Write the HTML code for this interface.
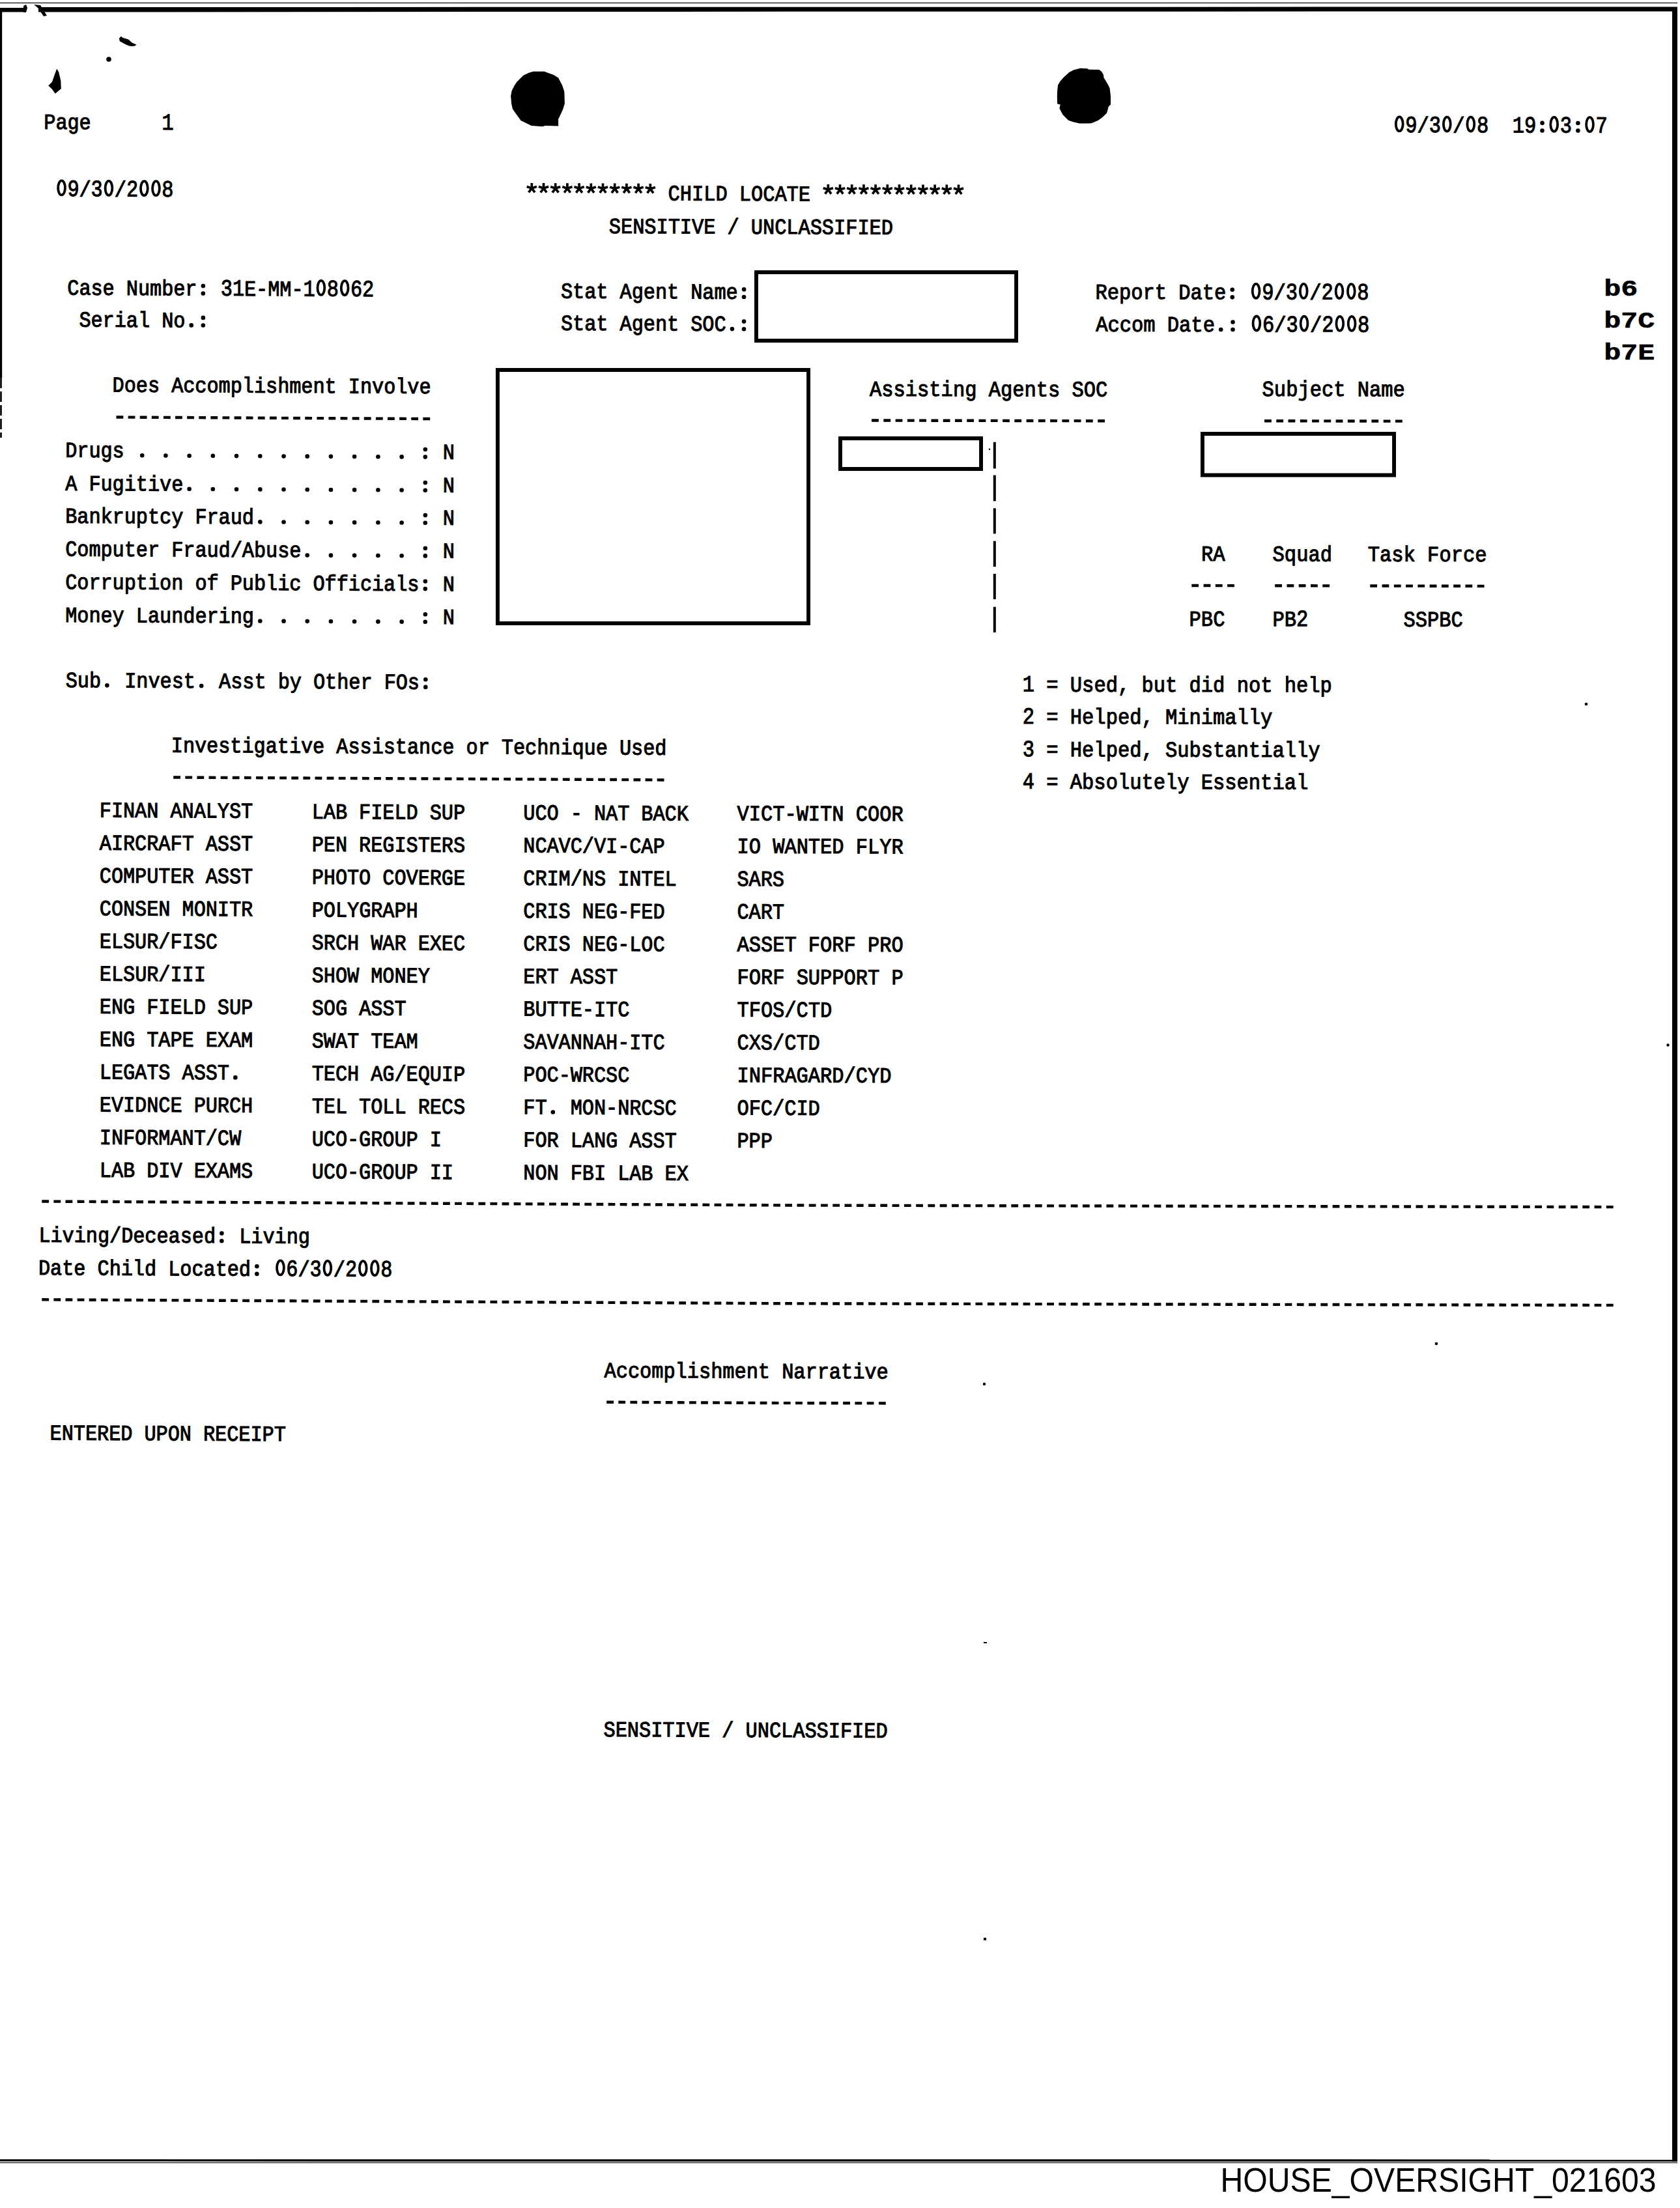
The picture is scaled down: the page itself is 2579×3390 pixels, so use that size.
<!DOCTYPE html>
<html><head><meta charset="utf-8"><title>Child Locate</title>
<style>
html,body{margin:0;padding:0;background:#fff;}
body{width:2579px;height:3390px;overflow:hidden;position:relative;}
svg{position:absolute;left:0;top:0;display:block;}
text{white-space:pre;}
</style></head><body>
<svg width="2579" height="3390" viewBox="0 0 2579 3390">
<g fill="#000">
<rect x="0" y="3.9" width="2575" height="1.2" fill="#000"/>
<path d="M0.0 12.0 L40.0 12.0 L40.0 11.0 L2575.0 10.5 L2575.0 17.5 L1200.0 17.8 L60.0 18.5 L0.0 18.6Z" fill="#000"/>
<rect x="40" y="9" width="19" height="12" fill="#fff"/>
<path d="M36 9 L40 7 L42 12 L40 19 L36 19Z" fill="#000"/>
<path d="M52 7 L62 8 L72 24 L67 25 L58 12Z" fill="#000"/>
<rect x="0.0" y="12.0" width="3.2" height="568.0" fill="#000"/>
<path d="M1.5 580 V672" stroke="#000" stroke-width="2.6" stroke-dasharray="16 5"/>
<rect x="2567.0" y="11.0" width="8.0" height="3307.5" fill="#000"/>
<path d="M0 3315.2 L2575 3315.4 L2575 3318.8 L0 3318.6Z" fill="#000"/>
<rect x="0.0" y="3320.0" width="2575.0" height="1.1" fill="#000"/>
<path d="M818.5 109.8 L835.5 109.8 L849.9 115.1 L857.1 119.6 L863.0 130.8 L866.3 140.6 L866.9 158.9 L864.3 167.5 L858.4 180.6 L857.1 182.5 L857.1 193.6 L836.8 193.0 L832.9 194.3 L815.8 193.0 L799.5 185.1 L791.6 174.0 L787.0 167.5 L785.1 158.9 L784.1 147.2 L785.7 139.3 L789.6 131.4 L793.6 125.5 L803.4 115.7 L811.9 111.8Z" fill="#000"/>
<path d="M1658.5 104.8 L1668.9 105.2 L1671.6 106.8 L1687.3 107.1 L1691.2 110.1 L1693.8 114.6 L1694.5 119.2 L1700.4 129.1 L1703.6 135.6 L1705.0 147.4 L1705.0 160.5 L1701.7 163.8 L1699.1 173.6 L1692.5 180.1 L1686.0 184.7 L1675.5 189.3 L1667.6 189.6 L1657.2 189.6 L1647.3 187.3 L1640.1 184.7 L1631.6 176.2 L1626.4 166.4 L1627.7 160.5 L1623.1 159.5 L1622.8 148.7 L1623.1 139.5 L1624.1 130.4 L1627.7 124.5 L1633.6 117.9 L1641.4 111.0 L1648.0 107.4Z" fill="#000"/>
<path d="M182.9 59.0 L185.7 55.7 L188.6 58.1 L197.1 60.5 L202.9 65.7 L209.5 68.6 L207.1 70.5 L202.9 71.0 L198.1 70.5 L191.4 67.6 L183.8 63.3Z" fill="#000"/>
<circle cx="167" cy="91" r="3.8" fill="#000"/>
<path d="M87.1 105.7 L90.0 110.0 L93.3 123.8 L93.8 136.2 L84.8 143.8 L80.0 137.1 L74.3 131.4 L80.0 125.7 L83.3 116.2Z" fill="#000"/>
<g font-weight="normal" font-family="Liberation Mono" stroke="#000" stroke-width="1.1" transform="rotate(0.301 67.3 198.0)"><text x="67.3" y="198.0" font-size="33.50" textLength="181.1" lengthAdjust="spacingAndGlyphs" xml:space="preserve">Page      </text><text x="248.4" y="198.0" font-size="35.84" textLength="18.1" lengthAdjust="spacingAndGlyphs" xml:space="preserve">1</text></g>
<g font-weight="normal" font-family="Liberation Mono" stroke="#000" stroke-width="1.1" transform="rotate(0.301 85.3 301.0)"><text x="85.3" y="301.0" font-size="35.84" textLength="36.2" lengthAdjust="spacingAndGlyphs" xml:space="preserve"> 9</text><text x="121.5" y="301.0" font-size="33.50" textLength="18.1" lengthAdjust="spacingAndGlyphs" xml:space="preserve">/</text><text x="139.6" y="301.0" font-size="35.84" textLength="36.2" lengthAdjust="spacingAndGlyphs" xml:space="preserve">3 </text><text x="175.8" y="301.0" font-size="33.50" textLength="18.1" lengthAdjust="spacingAndGlyphs" xml:space="preserve">/</text><text x="194.0" y="301.0" font-size="35.84" textLength="72.4" lengthAdjust="spacingAndGlyphs" xml:space="preserve">2  8</text><g stroke="none"><ellipse cx="94.5" cy="288.4" rx="5.4" ry="11.0" fill="none" stroke="#000" stroke-width="3.8"/><ellipse cx="166.9" cy="288.4" rx="5.4" ry="11.0" fill="none" stroke="#000" stroke-width="3.8"/><ellipse cx="221.3" cy="288.4" rx="5.4" ry="11.0" fill="none" stroke="#000" stroke-width="3.8"/><ellipse cx="239.4" cy="288.4" rx="5.4" ry="11.0" fill="none" stroke="#000" stroke-width="3.8"/></g></g>
<g font-weight="normal" font-family="Liberation Mono" stroke="#000" stroke-width="1.1" transform="rotate(0.119 2139.0 203.0)"><text x="2139.0" y="203.0" font-size="35.84" textLength="36.5" lengthAdjust="spacingAndGlyphs" xml:space="preserve"> 9</text><text x="2175.5" y="203.0" font-size="33.50" textLength="18.3" lengthAdjust="spacingAndGlyphs" xml:space="preserve">/</text><text x="2193.8" y="203.0" font-size="35.84" textLength="36.5" lengthAdjust="spacingAndGlyphs" xml:space="preserve">3 </text><text x="2230.3" y="203.0" font-size="33.50" textLength="36.5" lengthAdjust="spacingAndGlyphs" xml:space="preserve">/ </text><text x="2266.9" y="203.0" font-size="35.84" textLength="201.0" lengthAdjust="spacingAndGlyphs" xml:space="preserve">8  19  3  7</text><g stroke="none"><circle cx="2367.5" cy="200.0" r="3.3"/><circle cx="2367.5" cy="188.4" r="3.3"/><circle cx="2422.4" cy="200.0" r="3.3"/><circle cx="2422.4" cy="188.4" r="3.3"/><ellipse cx="2148.2" cy="190.4" rx="5.4" ry="11.0" fill="none" stroke="#000" stroke-width="3.8"/><ellipse cx="2221.3" cy="190.4" rx="5.4" ry="11.0" fill="none" stroke="#000" stroke-width="3.8"/><ellipse cx="2257.8" cy="190.4" rx="5.4" ry="11.0" fill="none" stroke="#000" stroke-width="3.8"/><ellipse cx="2385.7" cy="190.4" rx="5.4" ry="11.0" fill="none" stroke="#000" stroke-width="3.8"/><ellipse cx="2440.5" cy="190.4" rx="5.4" ry="11.0" fill="none" stroke="#000" stroke-width="3.8"/></g></g>
<g font-weight="normal" font-family="Liberation Mono" stroke="#000" stroke-width="1.1" transform="rotate(0.264 1025.6 307.5)"><text x="1025.6" y="307.5" font-size="33.50" textLength="218.4" lengthAdjust="spacingAndGlyphs" xml:space="preserve">CHILD LOCATE</text></g>
<path d="M816.3 288.9L816.30 280.95M816.3 288.9L823.91 286.48M816.3 288.9L821.00 295.42M816.3 288.9L811.60 295.42M816.3 288.9L808.69 286.48" stroke="#000" stroke-width="3.7" stroke-linecap="butt" fill="none"/>
<path d="M834.5 289.0L834.50 281.04M834.5 289.0L842.11 286.57M834.5 289.0L839.20 295.52M834.5 289.0L829.80 295.52M834.5 289.0L826.89 286.57" stroke="#000" stroke-width="3.7" stroke-linecap="butt" fill="none"/>
<path d="M852.7 289.1L852.70 281.14M852.7 289.1L860.31 286.67M852.7 289.1L857.40 295.61M852.7 289.1L848.00 295.61M852.7 289.1L845.09 286.67" stroke="#000" stroke-width="3.7" stroke-linecap="butt" fill="none"/>
<path d="M870.9 289.2L870.90 281.23M870.9 289.2L878.51 286.76M870.9 289.2L875.60 295.71M870.9 289.2L866.20 295.71M870.9 289.2L863.29 286.76" stroke="#000" stroke-width="3.7" stroke-linecap="butt" fill="none"/>
<path d="M889.1 289.3L889.10 281.33M889.1 289.3L896.71 286.86M889.1 289.3L893.80 295.80M889.1 289.3L884.40 295.80M889.1 289.3L881.49 286.86" stroke="#000" stroke-width="3.7" stroke-linecap="butt" fill="none"/>
<path d="M907.3 289.4L907.30 281.43M907.3 289.4L914.91 286.95M907.3 289.4L912.00 295.90M907.3 289.4L902.60 295.90M907.3 289.4L899.69 286.95" stroke="#000" stroke-width="3.7" stroke-linecap="butt" fill="none"/>
<path d="M925.5 289.5L925.50 281.52M925.5 289.5L933.11 287.05M925.5 289.5L930.20 295.99M925.5 289.5L920.80 295.99M925.5 289.5L917.89 287.05" stroke="#000" stroke-width="3.7" stroke-linecap="butt" fill="none"/>
<path d="M943.7 289.6L943.70 281.62M943.7 289.6L951.31 287.14M943.7 289.6L948.40 296.09M943.7 289.6L939.00 296.09M943.7 289.6L936.09 287.14" stroke="#000" stroke-width="3.7" stroke-linecap="butt" fill="none"/>
<path d="M961.9 289.7L961.90 281.71M961.9 289.7L969.51 287.24M961.9 289.7L966.60 296.18M961.9 289.7L957.20 296.18M961.9 289.7L954.29 287.24" stroke="#000" stroke-width="3.7" stroke-linecap="butt" fill="none"/>
<path d="M980.1 289.8L980.10 281.81M980.1 289.8L987.71 287.34M980.1 289.8L984.80 296.28M980.1 289.8L975.40 296.28M980.1 289.8L972.49 287.34" stroke="#000" stroke-width="3.7" stroke-linecap="butt" fill="none"/>
<path d="M998.3 289.9L998.30 281.90M998.3 289.9L1005.91 287.43M998.3 289.9L1003.00 296.38M998.3 289.9L993.60 296.38M998.3 289.9L990.69 287.43" stroke="#000" stroke-width="3.7" stroke-linecap="butt" fill="none"/>
<path d="M1271.3 291.1L1271.30 283.11M1271.3 291.1L1278.91 288.64M1271.3 291.1L1276.00 297.58M1271.3 291.1L1266.60 297.58M1271.3 291.1L1263.69 288.64" stroke="#000" stroke-width="3.7" stroke-linecap="butt" fill="none"/>
<path d="M1289.5 291.1L1289.50 283.15M1289.5 291.1L1297.11 288.68M1289.5 291.1L1294.20 297.62M1289.5 291.1L1284.80 297.62M1289.5 291.1L1281.89 288.68" stroke="#000" stroke-width="3.7" stroke-linecap="butt" fill="none"/>
<path d="M1307.7 291.2L1307.70 283.19M1307.7 291.2L1315.31 288.71M1307.7 291.2L1312.40 297.66M1307.7 291.2L1303.00 297.66M1307.7 291.2L1300.09 288.71" stroke="#000" stroke-width="3.7" stroke-linecap="butt" fill="none"/>
<path d="M1325.9 291.2L1325.90 283.22M1325.9 291.2L1333.51 288.75M1325.9 291.2L1330.60 297.70M1325.9 291.2L1321.20 297.70M1325.9 291.2L1318.29 288.75" stroke="#000" stroke-width="3.7" stroke-linecap="butt" fill="none"/>
<path d="M1344.1 291.3L1344.10 283.26M1344.1 291.3L1351.71 288.79M1344.1 291.3L1348.80 297.73M1344.1 291.3L1339.40 297.73M1344.1 291.3L1336.49 288.79" stroke="#000" stroke-width="3.7" stroke-linecap="butt" fill="none"/>
<path d="M1362.3 291.3L1362.30 283.30M1362.3 291.3L1369.91 288.83M1362.3 291.3L1367.00 297.77M1362.3 291.3L1357.60 297.77M1362.3 291.3L1354.69 288.83" stroke="#000" stroke-width="3.7" stroke-linecap="butt" fill="none"/>
<path d="M1380.5 291.3L1380.50 283.34M1380.5 291.3L1388.11 288.87M1380.5 291.3L1385.20 297.81M1380.5 291.3L1375.80 297.81M1380.5 291.3L1372.89 288.87" stroke="#000" stroke-width="3.7" stroke-linecap="butt" fill="none"/>
<path d="M1398.7 291.4L1398.70 283.38M1398.7 291.4L1406.31 288.90M1398.7 291.4L1403.40 297.85M1398.7 291.4L1394.00 297.85M1398.7 291.4L1391.09 288.90" stroke="#000" stroke-width="3.7" stroke-linecap="butt" fill="none"/>
<path d="M1416.9 291.4L1416.90 283.41M1416.9 291.4L1424.51 288.94M1416.9 291.4L1421.60 297.89M1416.9 291.4L1412.20 297.89M1416.9 291.4L1409.29 288.94" stroke="#000" stroke-width="3.7" stroke-linecap="butt" fill="none"/>
<path d="M1435.1 291.5L1435.10 283.45M1435.1 291.5L1442.71 288.98M1435.1 291.5L1439.80 297.92M1435.1 291.5L1430.40 297.92M1435.1 291.5L1427.49 288.98" stroke="#000" stroke-width="3.7" stroke-linecap="butt" fill="none"/>
<path d="M1453.3 291.5L1453.30 283.49M1453.3 291.5L1460.91 289.02M1453.3 291.5L1458.00 297.96M1453.3 291.5L1448.60 297.96M1453.3 291.5L1445.69 289.02" stroke="#000" stroke-width="3.7" stroke-linecap="butt" fill="none"/>
<path d="M1471.5 291.5L1471.50 283.53M1471.5 291.5L1479.11 289.05M1471.5 291.5L1476.20 298.00M1471.5 291.5L1466.80 298.00M1471.5 291.5L1463.89 289.05" stroke="#000" stroke-width="3.7" stroke-linecap="butt" fill="none"/>
<g font-weight="normal" font-family="Liberation Mono" stroke="#000" stroke-width="1.1" transform="rotate(0.230 934.8 358.0)"><text x="934.8" y="358.0" font-size="33.50" textLength="436.1" lengthAdjust="spacingAndGlyphs" xml:space="preserve">SENSITIVE / UNCLASSIFIED</text></g>
<g font-weight="normal" font-family="Liberation Mono" stroke="#000" stroke-width="1.1" transform="rotate(0.301 103.3 452.5)"><text x="103.3" y="452.5" font-size="33.50" textLength="235.4" lengthAdjust="spacingAndGlyphs" xml:space="preserve">Case Number  </text><text x="338.8" y="452.5" font-size="35.84" textLength="36.2" lengthAdjust="spacingAndGlyphs" xml:space="preserve">31</text><text x="375.0" y="452.5" font-size="33.50" textLength="90.5" lengthAdjust="spacingAndGlyphs" xml:space="preserve">E-MM-</text><text x="465.5" y="452.5" font-size="35.84" textLength="108.7" lengthAdjust="spacingAndGlyphs" xml:space="preserve">1 8 62</text><g stroke="none"><circle cx="311.8" cy="449.5" r="3.3"/><circle cx="311.8" cy="437.9" r="3.3"/><ellipse cx="492.8" cy="439.9" rx="5.4" ry="11.0" fill="none" stroke="#000" stroke-width="3.8"/><ellipse cx="529.1" cy="439.9" rx="5.4" ry="11.0" fill="none" stroke="#000" stroke-width="3.8"/></g></g>
<g font-weight="normal" font-family="Liberation Mono" stroke="#000" stroke-width="1.1" transform="rotate(0.301 121.4 501.5)"><text x="121.4" y="501.5" font-size="33.50" textLength="199.2" lengthAdjust="spacingAndGlyphs" xml:space="preserve">Serial No  </text><g stroke="none"><circle cx="293.7" cy="498.5" r="3.3"/><circle cx="311.8" cy="498.5" r="3.3"/><circle cx="311.8" cy="486.9" r="3.3"/></g></g>
<g font-weight="normal" font-family="Liberation Mono" stroke="#000" stroke-width="1.1" transform="rotate(0.301 861.0 457.5)"><text x="861.0" y="457.5" font-size="33.50" textLength="289.8" lengthAdjust="spacingAndGlyphs" xml:space="preserve">Stat Agent Name </text><g stroke="none"><circle cx="1142.0" cy="454.5" r="3.3"/><circle cx="1142.0" cy="442.9" r="3.3"/></g></g>
<g font-weight="normal" font-family="Liberation Mono" stroke="#000" stroke-width="1.1" transform="rotate(0.301 861.0 506.7)"><text x="861.0" y="506.7" font-size="33.50" textLength="289.8" lengthAdjust="spacingAndGlyphs" xml:space="preserve">Stat Agent SOC  </text><g stroke="none"><circle cx="1123.9" cy="503.7" r="3.3"/><circle cx="1142.0" cy="503.7" r="3.3"/><circle cx="1142.0" cy="492.1" r="3.3"/></g></g>
<path d="M1158 415H1563V526H1158Z M1163.9 420.9V520.1H1557.1V420.9Z" fill="#000" fill-rule="evenodd"/>
<g font-weight="normal" font-family="Liberation Mono" stroke="#000" stroke-width="1.1" transform="rotate(0.119 1681.4 458.9)"><text x="1681.4" y="458.9" font-size="33.50" textLength="255.8" lengthAdjust="spacingAndGlyphs" xml:space="preserve">Report Date   </text><text x="1937.2" y="458.9" font-size="35.84" textLength="18.3" lengthAdjust="spacingAndGlyphs" xml:space="preserve">9</text><text x="1955.4" y="458.9" font-size="33.50" textLength="18.3" lengthAdjust="spacingAndGlyphs" xml:space="preserve">/</text><text x="1973.7" y="458.9" font-size="35.84" textLength="36.5" lengthAdjust="spacingAndGlyphs" xml:space="preserve">3 </text><text x="2010.3" y="458.9" font-size="33.50" textLength="18.3" lengthAdjust="spacingAndGlyphs" xml:space="preserve">/</text><text x="2028.5" y="458.9" font-size="35.84" textLength="73.1" lengthAdjust="spacingAndGlyphs" xml:space="preserve">2  8</text><g stroke="none"><circle cx="1891.7" cy="455.9" r="3.3"/><circle cx="1891.7" cy="444.3" r="3.3"/><ellipse cx="1928.1" cy="446.3" rx="5.4" ry="11.0" fill="none" stroke="#000" stroke-width="3.8"/><ellipse cx="2001.2" cy="446.3" rx="5.4" ry="11.0" fill="none" stroke="#000" stroke-width="3.8"/><ellipse cx="2056.0" cy="446.3" rx="5.4" ry="11.0" fill="none" stroke="#000" stroke-width="3.8"/><ellipse cx="2074.3" cy="446.3" rx="5.4" ry="11.0" fill="none" stroke="#000" stroke-width="3.8"/></g></g>
<g font-weight="normal" font-family="Liberation Mono" stroke="#000" stroke-width="1.1" transform="rotate(0.119 1682.2 508.6)"><text x="1682.2" y="508.6" font-size="33.50" textLength="255.8" lengthAdjust="spacingAndGlyphs" xml:space="preserve">Accom Date    </text><text x="1938.0" y="508.6" font-size="35.84" textLength="18.3" lengthAdjust="spacingAndGlyphs" xml:space="preserve">6</text><text x="1956.2" y="508.6" font-size="33.50" textLength="18.3" lengthAdjust="spacingAndGlyphs" xml:space="preserve">/</text><text x="1974.5" y="508.6" font-size="35.84" textLength="36.5" lengthAdjust="spacingAndGlyphs" xml:space="preserve">3 </text><text x="2011.1" y="508.6" font-size="33.50" textLength="18.3" lengthAdjust="spacingAndGlyphs" xml:space="preserve">/</text><text x="2029.3" y="508.6" font-size="35.84" textLength="73.1" lengthAdjust="spacingAndGlyphs" xml:space="preserve">2  8</text><g stroke="none"><circle cx="1874.2" cy="505.6" r="3.3"/><circle cx="1892.5" cy="505.6" r="3.3"/><circle cx="1892.5" cy="494.0" r="3.3"/><ellipse cx="1928.9" cy="496.0" rx="5.4" ry="11.0" fill="none" stroke="#000" stroke-width="3.8"/><ellipse cx="2002.0" cy="496.0" rx="5.4" ry="11.0" fill="none" stroke="#000" stroke-width="3.8"/><ellipse cx="2056.8" cy="496.0" rx="5.4" ry="11.0" fill="none" stroke="#000" stroke-width="3.8"/><ellipse cx="2075.1" cy="496.0" rx="5.4" ry="11.0" fill="none" stroke="#000" stroke-width="3.8"/></g></g>
<g font-weight="bold" font-family="Liberation Mono" stroke="#000" stroke-width="0.6" transform="rotate(0.000 2462.3 453.8)"><text x="2462.3" y="453.8" font-size="35.50" textLength="52.0" lengthAdjust="spacingAndGlyphs" xml:space="preserve">b6</text></g>
<g font-weight="bold" font-family="Liberation Mono" stroke="#000" stroke-width="0.6" transform="rotate(0.000 2462.3 502.8)"><text x="2462.3" y="502.8" font-size="35.50" textLength="78.0" lengthAdjust="spacingAndGlyphs" xml:space="preserve">b7C</text></g>
<g font-weight="bold" font-family="Liberation Mono" stroke="#000" stroke-width="0.6" transform="rotate(0.000 2462.3 551.7)"><text x="2462.3" y="551.7" font-size="35.50" textLength="78.0" lengthAdjust="spacingAndGlyphs" xml:space="preserve">b7E</text></g>
<g font-weight="normal" font-family="Liberation Mono" stroke="#000" stroke-width="1.1" transform="rotate(0.301 172.6 601.5)"><text x="172.6" y="601.5" font-size="33.50" textLength="489.0" lengthAdjust="spacingAndGlyphs" xml:space="preserve">Does Accomplishment Involve</text></g>
<path d="M178.5 640.5 L660.2 643.03" fill="none" stroke="#000" stroke-width="4.4" stroke-dasharray="10.8 7.31"/>
<g font-weight="normal" font-family="Liberation Mono" stroke="#000" stroke-width="1.1" transform="rotate(0.301 100.2 701.7)"><text x="100.2" y="701.7" font-size="33.50" textLength="597.6" lengthAdjust="spacingAndGlyphs" xml:space="preserve">Drugs                           N</text><g stroke="none"><circle cx="218.2" cy="698.7" r="3.3"/><circle cx="254.4" cy="698.7" r="3.3"/><circle cx="290.6" cy="698.7" r="3.3"/><circle cx="326.8" cy="698.7" r="3.3"/><circle cx="363.0" cy="698.7" r="3.3"/><circle cx="399.3" cy="698.7" r="3.3"/><circle cx="435.5" cy="698.7" r="3.3"/><circle cx="471.7" cy="698.7" r="3.3"/><circle cx="507.9" cy="698.7" r="3.3"/><circle cx="544.1" cy="698.7" r="3.3"/><circle cx="580.4" cy="698.7" r="3.3"/><circle cx="616.6" cy="698.7" r="3.3"/><circle cx="652.8" cy="698.7" r="3.3"/><circle cx="652.8" cy="687.1" r="3.3"/></g></g>
<g font-weight="normal" font-family="Liberation Mono" stroke="#000" stroke-width="1.1" transform="rotate(0.301 100.2 752.8)"><text x="100.2" y="752.8" font-size="33.50" textLength="597.6" lengthAdjust="spacingAndGlyphs" xml:space="preserve">A Fugitive                      N</text><g stroke="none"><circle cx="290.6" cy="749.8" r="3.3"/><circle cx="326.8" cy="749.8" r="3.3"/><circle cx="363.0" cy="749.8" r="3.3"/><circle cx="399.3" cy="749.8" r="3.3"/><circle cx="435.5" cy="749.8" r="3.3"/><circle cx="471.7" cy="749.8" r="3.3"/><circle cx="507.9" cy="749.8" r="3.3"/><circle cx="544.1" cy="749.8" r="3.3"/><circle cx="580.4" cy="749.8" r="3.3"/><circle cx="616.6" cy="749.8" r="3.3"/><circle cx="652.8" cy="749.8" r="3.3"/><circle cx="652.8" cy="738.2" r="3.3"/></g></g>
<g font-weight="normal" font-family="Liberation Mono" stroke="#000" stroke-width="1.1" transform="rotate(0.301 100.2 802.8)"><text x="100.2" y="802.8" font-size="33.50" textLength="597.6" lengthAdjust="spacingAndGlyphs" xml:space="preserve">Bankruptcy Fraud                N</text><g stroke="none"><circle cx="399.3" cy="799.8" r="3.3"/><circle cx="435.5" cy="799.8" r="3.3"/><circle cx="471.7" cy="799.8" r="3.3"/><circle cx="507.9" cy="799.8" r="3.3"/><circle cx="544.1" cy="799.8" r="3.3"/><circle cx="580.4" cy="799.8" r="3.3"/><circle cx="616.6" cy="799.8" r="3.3"/><circle cx="652.8" cy="799.8" r="3.3"/><circle cx="652.8" cy="788.2" r="3.3"/></g></g>
<g font-weight="normal" font-family="Liberation Mono" stroke="#000" stroke-width="1.1" transform="rotate(0.301 100.2 853.5)"><text x="100.2" y="853.5" font-size="33.50" textLength="597.6" lengthAdjust="spacingAndGlyphs" xml:space="preserve">Computer Fraud/Abuse            N</text><g stroke="none"><circle cx="471.7" cy="850.5" r="3.3"/><circle cx="507.9" cy="850.5" r="3.3"/><circle cx="544.1" cy="850.5" r="3.3"/><circle cx="580.4" cy="850.5" r="3.3"/><circle cx="616.6" cy="850.5" r="3.3"/><circle cx="652.8" cy="850.5" r="3.3"/><circle cx="652.8" cy="838.9" r="3.3"/></g></g>
<g font-weight="normal" font-family="Liberation Mono" stroke="#000" stroke-width="1.1" transform="rotate(0.301 100.2 904.2)"><text x="100.2" y="904.2" font-size="33.50" textLength="597.6" lengthAdjust="spacingAndGlyphs" xml:space="preserve">Corruption of Public Officials  N</text><g stroke="none"><circle cx="652.8" cy="901.2" r="3.3"/><circle cx="652.8" cy="889.6" r="3.3"/></g></g>
<g font-weight="normal" font-family="Liberation Mono" stroke="#000" stroke-width="1.1" transform="rotate(0.301 100.2 954.9)"><text x="100.2" y="954.9" font-size="33.50" textLength="597.6" lengthAdjust="spacingAndGlyphs" xml:space="preserve">Money Laundering                N</text><g stroke="none"><circle cx="399.3" cy="951.9" r="3.3"/><circle cx="435.5" cy="951.9" r="3.3"/><circle cx="471.7" cy="951.9" r="3.3"/><circle cx="507.9" cy="951.9" r="3.3"/><circle cx="544.1" cy="951.9" r="3.3"/><circle cx="580.4" cy="951.9" r="3.3"/><circle cx="616.6" cy="951.9" r="3.3"/><circle cx="652.8" cy="951.9" r="3.3"/><circle cx="652.8" cy="940.3" r="3.3"/></g></g>
<path d="M761 565H1244V960H761Z M766.9 570.9V954.1H1238.1V570.9Z" fill="#000" fill-rule="evenodd"/>
<g font-weight="normal" font-family="Liberation Mono" stroke="#000" stroke-width="1.1" transform="rotate(0.119 1335.0 607.9)"><text x="1335.0" y="607.9" font-size="33.50" textLength="365.4" lengthAdjust="spacingAndGlyphs" xml:space="preserve">Assisting Agents SOC</text></g>
<path d="M1338.1 645.5 L1696.0 646.24" fill="none" stroke="#000" stroke-width="4.4" stroke-dasharray="10.8 7.47"/>
<path d="M1287 670H1509V723H1287Z M1292.9 675.9V717.1H1503.1V675.9Z" fill="#000" fill-rule="evenodd"/>
<rect x="1524.8" y="678.8" width="4.0" height="40.6" fill="#000"/>
<rect x="1524.8" y="729.6" width="4.0" height="39.8" fill="#000"/>
<rect x="1524.8" y="780.3" width="4.0" height="39.1" fill="#000"/>
<rect x="1524.8" y="830.7" width="4.0" height="39.4" fill="#000"/>
<rect x="1524.8" y="881.0" width="4.0" height="39.1" fill="#000"/>
<rect x="1524.8" y="931.7" width="4.0" height="39.2" fill="#000"/>
<circle cx="1519" cy="689.7" r="1.3" fill="#000"/>
<g font-weight="normal" font-family="Liberation Mono" stroke="#000" stroke-width="1.1" transform="rotate(0.119 1937.6 607.9)"><text x="1937.6" y="607.9" font-size="33.50" textLength="219.2" lengthAdjust="spacingAndGlyphs" xml:space="preserve">Subject Name</text></g>
<path d="M1941.0 646.2 L2152.8 646.64" fill="none" stroke="#000" stroke-width="4.4" stroke-dasharray="10.8 7.47"/>
<path d="M1843 663H2143V732.5H1843Z M1848.9 668.9V726.6H2137.1V668.9Z" fill="#000" fill-rule="evenodd"/>
<g font-weight="normal" font-family="Liberation Mono" stroke="#000" stroke-width="1.1" transform="rotate(0.119 1825.7 861.0)"><text x="1825.7" y="861.0" font-size="33.50" textLength="456.8" lengthAdjust="spacingAndGlyphs" xml:space="preserve"> RA    Squad   Task Force</text></g>
<path d="M1829.3 899.0 L1894.9 899.14" fill="none" stroke="#000" stroke-width="4.4" stroke-dasharray="10.8 7.47"/>
<path d="M1957.2 899.2 L2041.1 899.37" fill="none" stroke="#000" stroke-width="4.4" stroke-dasharray="10.8 7.47"/>
<path d="M2103.3 899.5 L2278.6 899.86" fill="none" stroke="#000" stroke-width="4.4" stroke-dasharray="10.8 7.47"/>
<g font-weight="normal" font-family="Liberation Mono" stroke="#000" stroke-width="1.1" transform="rotate(0.119 1825.6 961.0)"><text x="1825.6" y="961.0" font-size="33.50" textLength="164.4" lengthAdjust="spacingAndGlyphs" xml:space="preserve">PBC    PB</text><text x="1990.0" y="961.0" font-size="35.84" textLength="164.4" lengthAdjust="spacingAndGlyphs" xml:space="preserve">2        </text><text x="2154.5" y="961.0" font-size="33.50" textLength="91.3" lengthAdjust="spacingAndGlyphs" xml:space="preserve">SSPBC</text></g>
<g font-weight="normal" font-family="Liberation Mono" stroke="#000" stroke-width="1.1" transform="rotate(0.301 100.7 1055.0)"><text x="100.7" y="1055.0" font-size="33.50" textLength="561.4" lengthAdjust="spacingAndGlyphs" xml:space="preserve">Sub  Invest  Asst by Other FOs </text><g stroke="none"><circle cx="164.4" cy="1052.0" r="3.3"/><circle cx="309.2" cy="1052.0" r="3.3"/><circle cx="653.3" cy="1052.0" r="3.3"/><circle cx="653.3" cy="1040.4" r="3.3"/></g></g>
<g font-weight="normal" font-family="Liberation Mono" stroke="#000" stroke-width="1.1" transform="rotate(0.119 1569.8 1061.5)"><text x="1569.8" y="1061.5" font-size="35.84" textLength="36.5" lengthAdjust="spacingAndGlyphs" xml:space="preserve">1 </text><text x="1606.3" y="1061.5" font-size="33.50" textLength="438.5" lengthAdjust="spacingAndGlyphs" xml:space="preserve">= Used, but did not help</text></g>
<g font-weight="normal" font-family="Liberation Mono" stroke="#000" stroke-width="1.1" transform="rotate(0.119 1569.8 1110.9)"><text x="1569.8" y="1110.9" font-size="35.84" textLength="36.5" lengthAdjust="spacingAndGlyphs" xml:space="preserve">2 </text><text x="1606.3" y="1110.9" font-size="33.50" textLength="347.1" lengthAdjust="spacingAndGlyphs" xml:space="preserve">= Helped, Minimally</text></g>
<g font-weight="normal" font-family="Liberation Mono" stroke="#000" stroke-width="1.1" transform="rotate(0.119 1569.8 1161.2)"><text x="1569.8" y="1161.2" font-size="35.84" textLength="36.5" lengthAdjust="spacingAndGlyphs" xml:space="preserve">3 </text><text x="1606.3" y="1161.2" font-size="33.50" textLength="420.2" lengthAdjust="spacingAndGlyphs" xml:space="preserve">= Helped, Substantially</text></g>
<g font-weight="normal" font-family="Liberation Mono" stroke="#000" stroke-width="1.1" transform="rotate(0.119 1569.8 1210.7)"><text x="1569.8" y="1210.7" font-size="35.84" textLength="36.5" lengthAdjust="spacingAndGlyphs" xml:space="preserve">4 </text><text x="1606.3" y="1210.7" font-size="33.50" textLength="401.9" lengthAdjust="spacingAndGlyphs" xml:space="preserve">= Absolutely Essential</text></g>
<g font-weight="normal" font-family="Liberation Mono" stroke="#000" stroke-width="1.1" transform="rotate(0.301 262.8 1154.8)"><text x="262.8" y="1154.8" font-size="33.50" textLength="760.6" lengthAdjust="spacingAndGlyphs" xml:space="preserve">Investigative Assistance or Technique Used</text></g>
<path d="M266.2 1193.5 L1019.5 1197.45" fill="none" stroke="#000" stroke-width="4.4" stroke-dasharray="10.8 7.31"/>
<g font-weight="normal" font-family="Liberation Mono" stroke="#000" stroke-width="1.1" transform="rotate(0.301 152.8 1254.5)"><text x="152.8" y="1254.5" font-size="33.50" textLength="235.4" lengthAdjust="spacingAndGlyphs" xml:space="preserve">FINAN ANALYST</text></g>
<g font-weight="normal" font-family="Liberation Mono" stroke="#000" stroke-width="1.1" transform="rotate(0.301 152.8 1304.7)"><text x="152.8" y="1304.7" font-size="33.50" textLength="235.4" lengthAdjust="spacingAndGlyphs" xml:space="preserve">AIRCRAFT ASST</text></g>
<g font-weight="normal" font-family="Liberation Mono" stroke="#000" stroke-width="1.1" transform="rotate(0.301 152.8 1354.9)"><text x="152.8" y="1354.9" font-size="33.50" textLength="235.4" lengthAdjust="spacingAndGlyphs" xml:space="preserve">COMPUTER ASST</text></g>
<g font-weight="normal" font-family="Liberation Mono" stroke="#000" stroke-width="1.1" transform="rotate(0.301 152.8 1405.2)"><text x="152.8" y="1405.2" font-size="33.50" textLength="235.4" lengthAdjust="spacingAndGlyphs" xml:space="preserve">CONSEN MONITR</text></g>
<g font-weight="normal" font-family="Liberation Mono" stroke="#000" stroke-width="1.1" transform="rotate(0.301 152.8 1455.4)"><text x="152.8" y="1455.4" font-size="33.50" textLength="181.1" lengthAdjust="spacingAndGlyphs" xml:space="preserve">ELSUR/FISC</text></g>
<g font-weight="normal" font-family="Liberation Mono" stroke="#000" stroke-width="1.1" transform="rotate(0.301 152.8 1505.6)"><text x="152.8" y="1505.6" font-size="33.50" textLength="163.0" lengthAdjust="spacingAndGlyphs" xml:space="preserve">ELSUR/III</text></g>
<g font-weight="normal" font-family="Liberation Mono" stroke="#000" stroke-width="1.1" transform="rotate(0.301 152.8 1555.8)"><text x="152.8" y="1555.8" font-size="33.50" textLength="235.4" lengthAdjust="spacingAndGlyphs" xml:space="preserve">ENG FIELD SUP</text></g>
<g font-weight="normal" font-family="Liberation Mono" stroke="#000" stroke-width="1.1" transform="rotate(0.301 152.8 1606.0)"><text x="152.8" y="1606.0" font-size="33.50" textLength="235.4" lengthAdjust="spacingAndGlyphs" xml:space="preserve">ENG TAPE EXAM</text></g>
<g font-weight="normal" font-family="Liberation Mono" stroke="#000" stroke-width="1.1" transform="rotate(0.301 152.8 1656.3)"><text x="152.8" y="1656.3" font-size="33.50" textLength="217.3" lengthAdjust="spacingAndGlyphs" xml:space="preserve">LEGATS ASST </text><g stroke="none"><circle cx="361.3" cy="1653.3" r="3.3"/></g></g>
<g font-weight="normal" font-family="Liberation Mono" stroke="#000" stroke-width="1.1" transform="rotate(0.301 152.8 1706.5)"><text x="152.8" y="1706.5" font-size="33.50" textLength="235.4" lengthAdjust="spacingAndGlyphs" xml:space="preserve">EVIDNCE PURCH</text></g>
<g font-weight="normal" font-family="Liberation Mono" stroke="#000" stroke-width="1.1" transform="rotate(0.301 152.8 1756.7)"><text x="152.8" y="1756.7" font-size="33.50" textLength="217.3" lengthAdjust="spacingAndGlyphs" xml:space="preserve">INFORMANT/CW</text></g>
<g font-weight="normal" font-family="Liberation Mono" stroke="#000" stroke-width="1.1" transform="rotate(0.301 152.8 1806.9)"><text x="152.8" y="1806.9" font-size="33.50" textLength="235.4" lengthAdjust="spacingAndGlyphs" xml:space="preserve">LAB DIV EXAMS</text></g>
<g font-weight="normal" font-family="Liberation Mono" stroke="#000" stroke-width="1.1" transform="rotate(0.301 478.7 1256.7)"><text x="478.7" y="1256.7" font-size="33.50" textLength="235.4" lengthAdjust="spacingAndGlyphs" xml:space="preserve">LAB FIELD SUP</text></g>
<g font-weight="normal" font-family="Liberation Mono" stroke="#000" stroke-width="1.1" transform="rotate(0.301 478.7 1306.9)"><text x="478.7" y="1306.9" font-size="33.50" textLength="235.4" lengthAdjust="spacingAndGlyphs" xml:space="preserve">PEN REGISTERS</text></g>
<g font-weight="normal" font-family="Liberation Mono" stroke="#000" stroke-width="1.1" transform="rotate(0.301 478.7 1357.1)"><text x="478.7" y="1357.1" font-size="33.50" textLength="235.4" lengthAdjust="spacingAndGlyphs" xml:space="preserve">PHOTO COVERGE</text></g>
<g font-weight="normal" font-family="Liberation Mono" stroke="#000" stroke-width="1.1" transform="rotate(0.301 478.7 1407.4)"><text x="478.7" y="1407.4" font-size="33.50" textLength="163.0" lengthAdjust="spacingAndGlyphs" xml:space="preserve">POLYGRAPH</text></g>
<g font-weight="normal" font-family="Liberation Mono" stroke="#000" stroke-width="1.1" transform="rotate(0.301 478.7 1457.6)"><text x="478.7" y="1457.6" font-size="33.50" textLength="235.4" lengthAdjust="spacingAndGlyphs" xml:space="preserve">SRCH WAR EXEC</text></g>
<g font-weight="normal" font-family="Liberation Mono" stroke="#000" stroke-width="1.1" transform="rotate(0.301 478.7 1507.8)"><text x="478.7" y="1507.8" font-size="33.50" textLength="181.1" lengthAdjust="spacingAndGlyphs" xml:space="preserve">SHOW MONEY</text></g>
<g font-weight="normal" font-family="Liberation Mono" stroke="#000" stroke-width="1.1" transform="rotate(0.301 478.7 1558.0)"><text x="478.7" y="1558.0" font-size="33.50" textLength="144.9" lengthAdjust="spacingAndGlyphs" xml:space="preserve">SOG ASST</text></g>
<g font-weight="normal" font-family="Liberation Mono" stroke="#000" stroke-width="1.1" transform="rotate(0.301 478.7 1608.2)"><text x="478.7" y="1608.2" font-size="33.50" textLength="163.0" lengthAdjust="spacingAndGlyphs" xml:space="preserve">SWAT TEAM</text></g>
<g font-weight="normal" font-family="Liberation Mono" stroke="#000" stroke-width="1.1" transform="rotate(0.301 478.7 1658.5)"><text x="478.7" y="1658.5" font-size="33.50" textLength="235.4" lengthAdjust="spacingAndGlyphs" xml:space="preserve">TECH AG/EQUIP</text></g>
<g font-weight="normal" font-family="Liberation Mono" stroke="#000" stroke-width="1.1" transform="rotate(0.301 478.7 1708.7)"><text x="478.7" y="1708.7" font-size="33.50" textLength="235.4" lengthAdjust="spacingAndGlyphs" xml:space="preserve">TEL TOLL RECS</text></g>
<g font-weight="normal" font-family="Liberation Mono" stroke="#000" stroke-width="1.1" transform="rotate(0.301 478.7 1758.9)"><text x="478.7" y="1758.9" font-size="33.50" textLength="199.2" lengthAdjust="spacingAndGlyphs" xml:space="preserve">UCO-GROUP I</text></g>
<g font-weight="normal" font-family="Liberation Mono" stroke="#000" stroke-width="1.1" transform="rotate(0.301 478.7 1809.1)"><text x="478.7" y="1809.1" font-size="33.50" textLength="217.3" lengthAdjust="spacingAndGlyphs" xml:space="preserve">UCO-GROUP II</text></g>
<g font-weight="normal" font-family="Liberation Mono" stroke="#000" stroke-width="1.1" transform="rotate(0.301 803.3 1258.3)"><text x="803.3" y="1258.3" font-size="33.50" textLength="253.5" lengthAdjust="spacingAndGlyphs" xml:space="preserve">UCO - NAT BACK</text></g>
<g font-weight="normal" font-family="Liberation Mono" stroke="#000" stroke-width="1.1" transform="rotate(0.301 803.3 1308.5)"><text x="803.3" y="1308.5" font-size="33.50" textLength="217.3" lengthAdjust="spacingAndGlyphs" xml:space="preserve">NCAVC/VI-CAP</text></g>
<g font-weight="normal" font-family="Liberation Mono" stroke="#000" stroke-width="1.1" transform="rotate(0.301 803.3 1358.7)"><text x="803.3" y="1358.7" font-size="33.50" textLength="235.4" lengthAdjust="spacingAndGlyphs" xml:space="preserve">CRIM/NS INTEL</text></g>
<g font-weight="normal" font-family="Liberation Mono" stroke="#000" stroke-width="1.1" transform="rotate(0.301 803.3 1409.0)"><text x="803.3" y="1409.0" font-size="33.50" textLength="217.3" lengthAdjust="spacingAndGlyphs" xml:space="preserve">CRIS NEG-FED</text></g>
<g font-weight="normal" font-family="Liberation Mono" stroke="#000" stroke-width="1.1" transform="rotate(0.301 803.3 1459.2)"><text x="803.3" y="1459.2" font-size="33.50" textLength="217.3" lengthAdjust="spacingAndGlyphs" xml:space="preserve">CRIS NEG-LOC</text></g>
<g font-weight="normal" font-family="Liberation Mono" stroke="#000" stroke-width="1.1" transform="rotate(0.301 803.3 1509.4)"><text x="803.3" y="1509.4" font-size="33.50" textLength="144.9" lengthAdjust="spacingAndGlyphs" xml:space="preserve">ERT ASST</text></g>
<g font-weight="normal" font-family="Liberation Mono" stroke="#000" stroke-width="1.1" transform="rotate(0.301 803.3 1559.6)"><text x="803.3" y="1559.6" font-size="33.50" textLength="163.0" lengthAdjust="spacingAndGlyphs" xml:space="preserve">BUTTE-ITC</text></g>
<g font-weight="normal" font-family="Liberation Mono" stroke="#000" stroke-width="1.1" transform="rotate(0.301 803.3 1609.8)"><text x="803.3" y="1609.8" font-size="33.50" textLength="217.3" lengthAdjust="spacingAndGlyphs" xml:space="preserve">SAVANNAH-ITC</text></g>
<g font-weight="normal" font-family="Liberation Mono" stroke="#000" stroke-width="1.1" transform="rotate(0.301 803.3 1660.1)"><text x="803.3" y="1660.1" font-size="33.50" textLength="163.0" lengthAdjust="spacingAndGlyphs" xml:space="preserve">POC-WRCSC</text></g>
<g font-weight="normal" font-family="Liberation Mono" stroke="#000" stroke-width="1.1" transform="rotate(0.301 803.3 1710.3)"><text x="803.3" y="1710.3" font-size="33.50" textLength="235.4" lengthAdjust="spacingAndGlyphs" xml:space="preserve">FT  MON-NRCSC</text><g stroke="none"><circle cx="848.8" cy="1707.3" r="3.3"/></g></g>
<g font-weight="normal" font-family="Liberation Mono" stroke="#000" stroke-width="1.1" transform="rotate(0.301 803.3 1760.5)"><text x="803.3" y="1760.5" font-size="33.50" textLength="235.4" lengthAdjust="spacingAndGlyphs" xml:space="preserve">FOR LANG ASST</text></g>
<g font-weight="normal" font-family="Liberation Mono" stroke="#000" stroke-width="1.1" transform="rotate(0.301 803.3 1810.7)"><text x="803.3" y="1810.7" font-size="33.50" textLength="253.5" lengthAdjust="spacingAndGlyphs" xml:space="preserve">NON FBI LAB EX</text></g>
<g font-weight="normal" font-family="Liberation Mono" stroke="#000" stroke-width="1.1" transform="rotate(0.168 1131.5 1259.5)"><text x="1131.5" y="1259.5" font-size="33.50" textLength="255.2" lengthAdjust="spacingAndGlyphs" xml:space="preserve">VICT-WITN COOR</text></g>
<g font-weight="normal" font-family="Liberation Mono" stroke="#000" stroke-width="1.1" transform="rotate(0.168 1131.5 1309.7)"><text x="1131.5" y="1309.7" font-size="33.50" textLength="255.2" lengthAdjust="spacingAndGlyphs" xml:space="preserve">IO WANTED FLYR</text></g>
<g font-weight="normal" font-family="Liberation Mono" stroke="#000" stroke-width="1.1" transform="rotate(0.291 1131.5 1359.9)"><text x="1131.5" y="1359.9" font-size="33.50" textLength="72.5" lengthAdjust="spacingAndGlyphs" xml:space="preserve">SARS</text></g>
<g font-weight="normal" font-family="Liberation Mono" stroke="#000" stroke-width="1.1" transform="rotate(0.291 1131.5 1410.2)"><text x="1131.5" y="1410.2" font-size="33.50" textLength="72.5" lengthAdjust="spacingAndGlyphs" xml:space="preserve">CART</text></g>
<g font-weight="normal" font-family="Liberation Mono" stroke="#000" stroke-width="1.1" transform="rotate(0.168 1131.5 1460.4)"><text x="1131.5" y="1460.4" font-size="33.50" textLength="255.2" lengthAdjust="spacingAndGlyphs" xml:space="preserve">ASSET FORF PRO</text></g>
<g font-weight="normal" font-family="Liberation Mono" stroke="#000" stroke-width="1.1" transform="rotate(0.168 1131.5 1510.6)"><text x="1131.5" y="1510.6" font-size="33.50" textLength="255.2" lengthAdjust="spacingAndGlyphs" xml:space="preserve">FORF SUPPORT P</text></g>
<g font-weight="normal" font-family="Liberation Mono" stroke="#000" stroke-width="1.1" transform="rotate(0.205 1131.5 1560.8)"><text x="1131.5" y="1560.8" font-size="33.50" textLength="145.6" lengthAdjust="spacingAndGlyphs" xml:space="preserve">TFOS/CTD</text></g>
<g font-weight="normal" font-family="Liberation Mono" stroke="#000" stroke-width="1.1" transform="rotate(0.217 1131.5 1611.0)"><text x="1131.5" y="1611.0" font-size="33.50" textLength="127.3" lengthAdjust="spacingAndGlyphs" xml:space="preserve">CXS/CTD</text></g>
<g font-weight="normal" font-family="Liberation Mono" stroke="#000" stroke-width="1.1" transform="rotate(0.172 1131.5 1661.3)"><text x="1131.5" y="1661.3" font-size="33.50" textLength="236.9" lengthAdjust="spacingAndGlyphs" xml:space="preserve">INFRAGARD/CYD</text></g>
<g font-weight="normal" font-family="Liberation Mono" stroke="#000" stroke-width="1.1" transform="rotate(0.217 1131.5 1711.5)"><text x="1131.5" y="1711.5" font-size="33.50" textLength="127.3" lengthAdjust="spacingAndGlyphs" xml:space="preserve">OFC/CID</text></g>
<g font-weight="normal" font-family="Liberation Mono" stroke="#000" stroke-width="1.1" transform="rotate(0.301 1131.5 1761.7)"><text x="1131.5" y="1761.7" font-size="33.50" textLength="54.3" lengthAdjust="spacingAndGlyphs" xml:space="preserve">PPP</text></g>
<path d="M64.3 1844.5 L1197.9 1850.45" fill="none" stroke="#000" stroke-width="4.4" stroke-dasharray="10.8 7.31"/>
<path d="M1205.2 1850.5 L2476.7 1853.12" fill="none" stroke="#000" stroke-width="4.4" stroke-dasharray="10.8 7.47"/>
<g font-weight="normal" font-family="Liberation Mono" stroke="#000" stroke-width="1.1" transform="rotate(0.301 59.4 1906.7)"><text x="59.4" y="1906.7" font-size="33.50" textLength="416.5" lengthAdjust="spacingAndGlyphs" xml:space="preserve">Living/Deceased  Living</text><g stroke="none"><circle cx="340.3" cy="1903.7" r="3.3"/><circle cx="340.3" cy="1892.1" r="3.3"/></g></g>
<g font-weight="normal" font-family="Liberation Mono" stroke="#000" stroke-width="1.1" transform="rotate(0.301 59.0 1957.1)"><text x="59.0" y="1957.1" font-size="33.50" textLength="380.3" lengthAdjust="spacingAndGlyphs" xml:space="preserve">Date Child Located   </text><text x="439.3" y="1957.1" font-size="35.84" textLength="18.1" lengthAdjust="spacingAndGlyphs" xml:space="preserve">6</text><text x="457.4" y="1957.1" font-size="33.50" textLength="18.1" lengthAdjust="spacingAndGlyphs" xml:space="preserve">/</text><text x="475.5" y="1957.1" font-size="35.84" textLength="36.2" lengthAdjust="spacingAndGlyphs" xml:space="preserve">3 </text><text x="511.8" y="1957.1" font-size="33.50" textLength="18.1" lengthAdjust="spacingAndGlyphs" xml:space="preserve">/</text><text x="529.9" y="1957.1" font-size="35.84" textLength="72.4" lengthAdjust="spacingAndGlyphs" xml:space="preserve">2  8</text><g stroke="none"><circle cx="394.3" cy="1954.1" r="3.3"/><circle cx="394.3" cy="1942.5" r="3.3"/><ellipse cx="430.4" cy="1944.5" rx="5.4" ry="11.0" fill="none" stroke="#000" stroke-width="3.8"/><ellipse cx="502.8" cy="1944.5" rx="5.4" ry="11.0" fill="none" stroke="#000" stroke-width="3.8"/><ellipse cx="557.2" cy="1944.5" rx="5.4" ry="11.0" fill="none" stroke="#000" stroke-width="3.8"/><ellipse cx="575.3" cy="1944.5" rx="5.4" ry="11.0" fill="none" stroke="#000" stroke-width="3.8"/></g></g>
<path d="M64.3 1995.3 L1197.9 2001.25" fill="none" stroke="#000" stroke-width="4.4" stroke-dasharray="10.8 7.31"/>
<path d="M1205.2 2001.3 L2476.7 2003.92" fill="none" stroke="#000" stroke-width="4.4" stroke-dasharray="10.8 7.47"/>
<g font-weight="normal" font-family="Liberation Mono" stroke="#000" stroke-width="1.1" transform="rotate(0.233 927.6 2114.8)"><text x="927.6" y="2114.8" font-size="33.50" textLength="436.1" lengthAdjust="spacingAndGlyphs" xml:space="preserve">Accomplishment Narrative</text></g>
<path d="M931.2 2152.7 L1195.5 2154.09" fill="none" stroke="#000" stroke-width="4.4" stroke-dasharray="10.8 7.31"/>
<path d="M1202.8 2154.1 L1359.8 2154.44" fill="none" stroke="#000" stroke-width="4.4" stroke-dasharray="10.8 7.47"/>
<g font-weight="normal" font-family="Liberation Mono" stroke="#000" stroke-width="1.1" transform="rotate(0.301 76.6 2210.5)"><text x="76.6" y="2210.5" font-size="33.50" textLength="362.2" lengthAdjust="spacingAndGlyphs" xml:space="preserve">ENTERED UPON RECEIPT</text></g>
<g font-weight="normal" font-family="Liberation Mono" stroke="#000" stroke-width="1.1" transform="rotate(0.233 926.5 2666.0)"><text x="926.5" y="2666.0" font-size="33.50" textLength="436.1" lengthAdjust="spacingAndGlyphs" xml:space="preserve">SENSITIVE / UNCLASSIFIED</text></g>
<circle cx="2435" cy="1081" r="2.3" fill="#000"/>
<circle cx="2560.5" cy="1604.5" r="2.2" fill="#000"/>
<circle cx="1511" cy="2125" r="2.2" fill="#000"/>
<circle cx="2205" cy="2063" r="2.3" fill="#000"/>
<rect x="1510.0" y="2521.0" width="5.0" height="2.0" fill="#000"/>
<rect x="1510.0" y="2975.0" width="4.0" height="4.0" fill="#000"/>
<text x="1873.6" y="3364.6" font-size="50.9" font-family="Liberation Sans" textLength="669" lengthAdjust="spacingAndGlyphs" fill="#000">HOUSE_OVERSIGHT_021603</text>
</g>
</svg>
</body></html>
